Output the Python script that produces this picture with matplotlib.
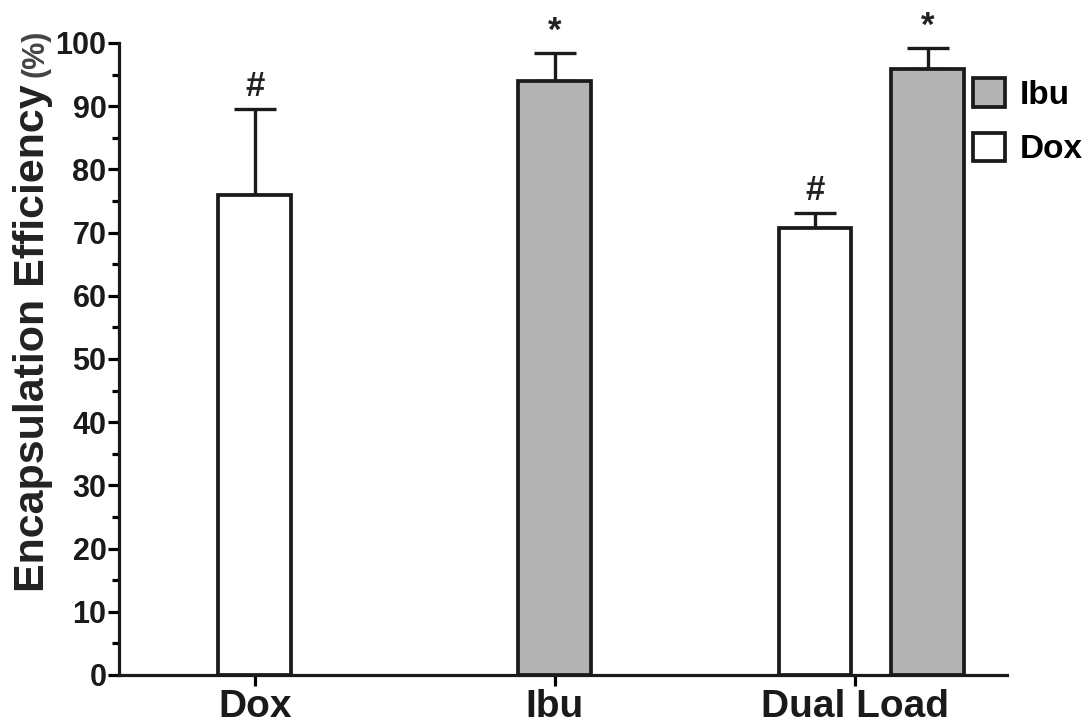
import matplotlib
matplotlib.use('Agg')
import matplotlib.pyplot as plt
from matplotlib.patches import Patch
import numpy as np

plt.rcParams['font.family'] = ['Liberation Sans', 'DejaVu Sans']
plt.rcParams['font.weight'] = 'bold'

categories = ['Dox', 'Ibu', 'Dual Load']
dox_mean = [75.9, np.nan, 70.8]
dox_sd = [13.7, np.nan, 2.3]
ibu_mean = [np.nan, 94.0, 95.9]
ibu_sd = [np.nan, 4.4, 3.3]
dox_marks = ['#', '', '#']
ibu_marks = ['', '*', '*']

W, H = 1090, 727
fig = plt.figure(figsize=(W / 100, H / 100), dpi=100)
ax = fig.add_axes([119 / W, 52 / H, 888 / W, 632 / H])

bar_w = 0.243
gray = '#b3b3b3'
edge_lw = 2.7


def draw_bar(x, m, s, color, mark):
    ax.bar(x, m, width=bar_w, color=color, edgecolor='#1a1a1a', linewidth=edge_lw, zorder=3)
    ax.errorbar(x, m, yerr=[[0], [s]], fmt='none', ecolor='#1a1a1a', elinewidth=2.4,
                capsize=15, capthick=2.4, zorder=2)
    if mark:
        ax.text(x, m + s + 2.0, mark, ha='center', va='baseline', fontsize=25,
                fontweight='bold', color='#222222', clip_on=False)


for i in range(len(categories)):
    both = not np.isnan(dox_mean[i]) and not np.isnan(ibu_mean[i])
    if not np.isnan(dox_mean[i]):
        draw_bar(i - 0.133 if both else i, dox_mean[i], dox_sd[i], 'white', dox_marks[i])
    if not np.isnan(ibu_mean[i]):
        draw_bar(i + 0.243 if both else i, ibu_mean[i], ibu_sd[i], gray, ibu_marks[i])

ax.set_xlim(-0.453, 2.507)
ax.set_ylim(0, 100)
ax.set_xticks(range(len(categories)))
ax.set_xticklabels(categories, fontsize=28, fontweight='bold', color='#1a1a1a')
ax.set_yticks(np.arange(0, 101, 10))
ax.set_yticks(np.arange(5, 100, 10), minor=True)
ax.tick_params(axis='y', which='major', length=8, width=2.3, labelsize=22, pad=1,
               labelcolor='#1a1a1a')
ax.tick_params(axis='y', which='minor', length=5, width=2.3)
ax.tick_params(axis='x', which='major', length=8, width=2.3, pad=2)
for lab in ax.get_yticklabels():
    lab.set_fontweight('bold')
for side in ['top', 'right']:
    ax.spines[side].set_visible(False)
for side in ['left', 'bottom']:
    ax.spines[side].set_linewidth(2.3)
    ax.spines[side].set_color('#1a1a1a')

# y label: main text plus smaller "(%)"
t1 = fig.text(44 / W, 1 - 592 / H, 'Encapsulation Efficiency', rotation=90,
              rotation_mode='anchor', ha='left', va='baseline', fontsize=31,
              fontweight='bold', color='#222222')
fig.canvas.draw()
bb = t1.get_window_extent()
fig.text(44 / W, (bb.y1 + 7) / H, '(%)', rotation=90, rotation_mode='anchor',
         ha='left', va='baseline', fontsize=22, fontweight='bold', color='#444444')

handles = [Patch(facecolor=gray, edgecolor='#1a1a1a', linewidth=2.7, label='Ibu'),
           Patch(facecolor='white', edgecolor='#1a1a1a', linewidth=2.7, label='Dox')]
fig.legend(handles=handles, loc='upper left', bbox_to_anchor=(973 / W, 1 - 78 / H),
           frameon=False, handlelength=0.95, handleheight=0.95,
           handletextpad=0.45, labelspacing=0.65, borderpad=0, borderaxespad=0,
           prop={'weight': 'bold', 'size': 24})

fig.savefig('out.png', dpi=100, facecolor='white')
